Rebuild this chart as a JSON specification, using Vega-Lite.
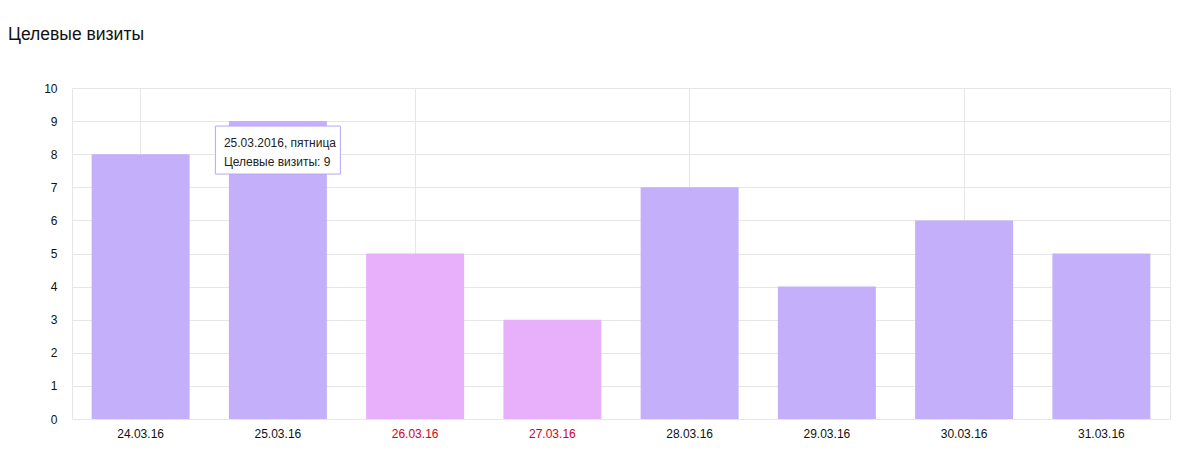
{
  "$schema": "https://vega.github.io/schema/vega-lite/v6.json",
  "width": 1098,
  "height": 331,
  "autosize": {"type": "none"},
  "padding": {"left": 72, "top": 88, "right": 30, "bottom": 49},
  "background": "white",
  "config": {
    "font": "Liberation Sans",
    "view": {"stroke": "#e6e6e6", "strokeWidth": 1}
  },
  "title": {
    "text": "Целевые визиты",
    "anchor": "start",
    "frame": "group",
    "dx": -64,
    "offset": 39,
    "fontSize": 17.5,
    "fontWeight": "normal",
    "color": "#111111",
    "font": "Liberation Sans"
  },
  "resolve": {"axis": {"y": "independent"}},
  "data": {
    "values": [
      {"date": "24.03.16", "full": "24.03.2016, четверг", "visits": 8, "day": "будний"},
      {"date": "25.03.16", "full": "25.03.2016, пятница", "visits": 9, "day": "будний"},
      {"date": "26.03.16", "full": "26.03.2016, суббота", "visits": 5, "day": "выходной"},
      {"date": "27.03.16", "full": "27.03.2016, воскресенье", "visits": 3, "day": "выходной"},
      {"date": "28.03.16", "full": "28.03.2016, понедельник", "visits": 7, "day": "будний"},
      {"date": "29.03.16", "full": "29.03.2016, вторник", "visits": 4, "day": "будний"},
      {"date": "30.03.16", "full": "30.03.2016, среда", "visits": 6, "day": "будний"},
      {"date": "31.03.16", "full": "31.03.2016, четверг", "visits": 5, "day": "будний"}
    ]
  },
  "encoding": {
    "x": {
      "field": "date",
      "type": "nominal",
      "scale": {"paddingInner": 0.286, "paddingOuter": 0.143},
      "axis": {
        "title": null,
        "labelAngle": 0,
        "ticks": false,
        "domain": false,
        "labelPadding": 9,
        "labelFontSize": 12,
        "labelFont": "Liberation Sans",
        "labelColor": {
          "condition": {"test": "datum.value === '26.03.16' || datum.value === '27.03.16'", "value": "#d0021b"},
          "value": "#111111"
        },
        "grid": true,
        "bandPosition": 0.5,
        "gridColor": "#e6e6e6",
        "gridOpacity": {
          "condition": {"test": "indexof(['24.03.16','26.03.16','28.03.16','30.03.16'], datum.value) >= 0", "value": 1},
          "value": 0
        }
      }
    }
  },
  "layer": [
    {
      "mark": {"type": "bar"},
      "encoding": {
        "y": {
          "field": "visits",
          "type": "quantitative",
          "scale": {"domain": [0, 10], "nice": false},
          "axis": {
            "title": null,
            "values": [0, 1, 2, 3, 4, 5, 6, 7, 8, 9, 10],
            "labelOverlap": false,
            "ticks": false,
            "domain": false,
            "labelPadding": 15,
            "labelFontSize": 12,
            "labelFont": "Liberation Sans",
            "labelColor": "#111111",
            "gridColor": "#e6e6e6"
          }
        },
        "color": {
          "field": "day",
          "type": "nominal",
          "scale": {"domain": ["будний", "выходной"], "range": ["#c4b0fa", "#e8b0fa"]},
          "legend": null
        }
      }
    },
    {
      "transform": [{"filter": "datum.date === '25.03.16'"}],
      "mark": {"type": "bar", "width": 125, "fill": "white", "stroke": "#b9a6f2", "strokeWidth": 1},
      "encoding": {
        "y": {"datum": 8.85, "axis": null},
        "y2": {"datum": 7.4}
      }
    },
    {
      "transform": [{"filter": "datum.date === '25.03.16'"}],
      "mark": {"type": "text", "align": "left", "baseline": "middle", "dx": -54, "fontSize": 12, "color": "#222222", "font": "Liberation Sans"},
      "encoding": {
        "y": {"datum": 8.34, "axis": null},
        "text": {"field": "full"}
      }
    },
    {
      "transform": [{"filter": "datum.date === '25.03.16'"}],
      "mark": {"type": "text", "align": "left", "baseline": "middle", "dx": -54, "fontSize": 12, "color": "#222222", "font": "Liberation Sans"},
      "encoding": {
        "y": {"datum": 7.76, "axis": null},
        "text": {"value": "Целевые визиты: 9"}
      }
    }
  ]
}
